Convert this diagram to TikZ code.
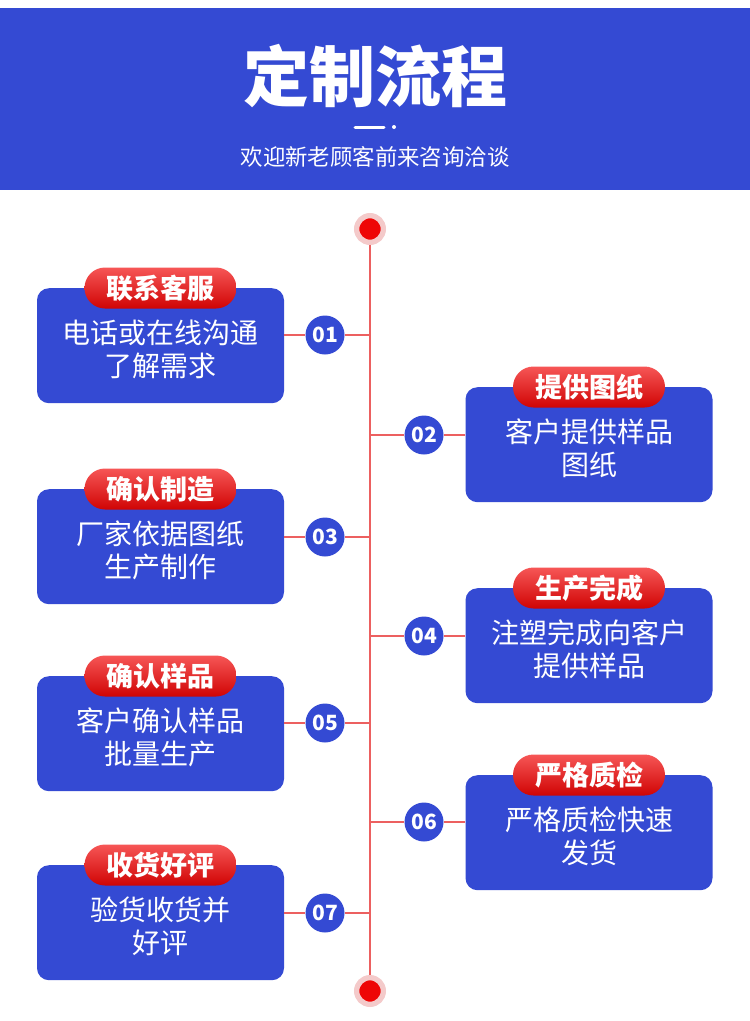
\documentclass[tikz,border=0pt]{standalone}
\usepackage{fontspec}
\setmainfont{Noto Sans CJK SC}
\definecolor{headblue}{RGB}{52,74,211}
\definecolor{badgetop}{RGB}{246,86,86}
\definecolor{badgebot}{RGB}{208,4,4}
\definecolor{spinered}{RGB}{236,96,96}
\definecolor{dotred}{RGB}{238,6,6}
\definecolor{ringpink}{RGB}{244,202,202}
\begin{document}
\begin{tikzpicture}[x=1pt,y=-1pt,
    stepbox/.style={fill=headblue, rounded corners=12pt, minimum width=247pt,
        minimum height=115pt, anchor=north, inner sep=0pt},
    steptext/.style={text=white, align=center, font=\fontsize{28}{33}\selectfont},
    badge/.style={top color=badgetop, bottom color=badgebot, rounded corners=20.5pt,
        minimum width=152pt, minimum height=41pt, inner sep=0pt, text=white,
        font=\fontsize{27}{27}\selectfont\bfseries},
    numdot/.style={circle, fill=headblue, minimum size=39pt, inner sep=0pt,
        text=white, font=\fontsize{21}{21}\selectfont\bfseries},
    enddot/.style={circle, fill=dotred, draw=ringpink, line width=5.3pt,
        minimum size=26.7pt, inner sep=0pt},
    spine/.style={draw=spinered, line width=2pt}]
    \useasboundingbox (0,0) rectangle (750,1021);
    % header
    \fill[headblue] (0,8) rectangle (750,190);
    \node[text=white, font=\fontsize{66}{66}\selectfont\bfseries] (title) at (375,76) {定制流程};
    \draw[white, line width=3pt, line cap=round] (355,127) -- (384,127);
    \fill[white] (394,127) circle (2);
    \node[text=white, font=\fontsize{22.4}{22.4}\selectfont] (subtitle) at (375,157) {欢迎新老顾客前来咨询洽谈};
    % timeline
    \node[enddot] (topdot) at (370,229) {};
    \node[enddot] (bottomdot) at (370,991) {};
    \draw[spine] (topdot) -- (bottomdot);
    \foreach \n/\bx/\nx/\ytop/\cy/\side/\tag/\lineA/\lineB in {
        01/160.5/325/288/335/east/联系客服/电话或在线沟通/了解需求,
        02/589/424/387/435/west/提供图纸/客户提供样品/图纸,
        03/160.5/325/489/537/east/确认制造/厂家依据图纸/生产制作,
        04/589/424/588/636/west/生产完成/注塑完成向客户/提供样品,
        05/160.5/325/676/723/east/确认样品/客户确认样品/批量生产,
        06/589/424/775/822/west/严格质检/严格质检快速/发货,
        07/160.5/325/865/913/east/收货好评/验货收货并/好评}{
        \node[stepbox] (box\n) at (\bx,\ytop) {};
        \node[steptext] (text\n) at ([yshift=-4pt]box\n.center) {\lineA\\\lineB};
        \node[badge] (badge\n) at (box\n.north) {\tag};
        \node[numdot] (num\n) at (\nx,\cy) {\n};
        \coordinate (spine\n) at (370,\cy);
        \draw[spine] (box\n.\side |- num\n) -- (num\n) -- (spine\n);
    }
\end{tikzpicture}
\end{document}
